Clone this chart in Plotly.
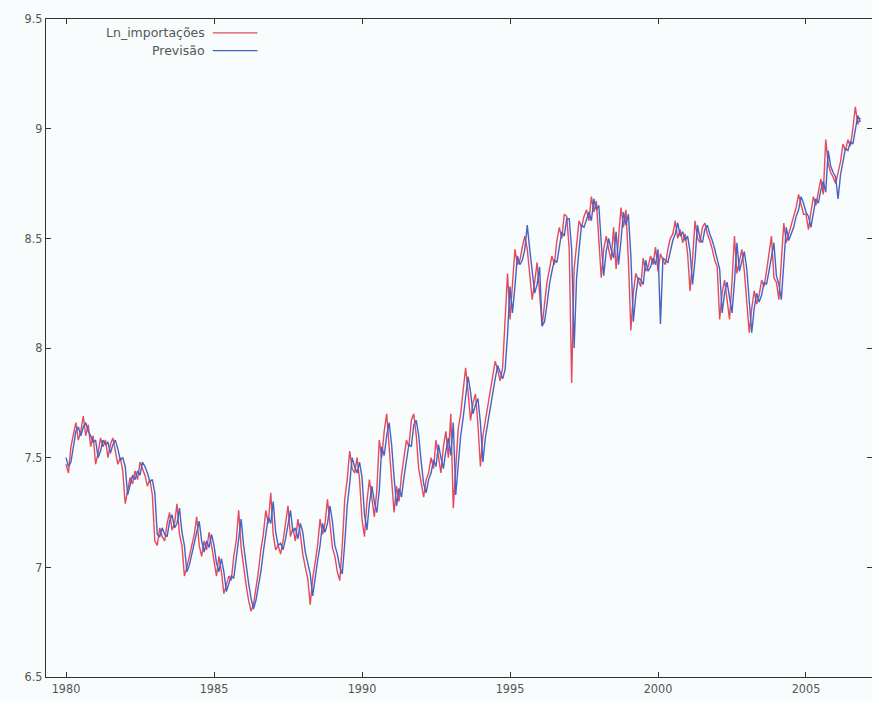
import plotly.graph_objects as go

start_year = 1980

red_1980 = [7.47, 7.43, 7.55, 7.60, 7.66, 7.58, 7.62, 7.69, 7.60, 7.65, 7.55, 7.60]
red_1981 = [7.47, 7.52, 7.59, 7.55, 7.58, 7.50, 7.56, 7.59, 7.53, 7.47, 7.50, 7.44]
red_1982 = [7.29, 7.35, 7.41, 7.38, 7.44, 7.40, 7.48, 7.45, 7.42, 7.37, 7.40, 7.33]
red_1983 = [7.12, 7.10, 7.18, 7.14, 7.12, 7.20, 7.25, 7.17, 7.20, 7.29, 7.15, 7.10]
red_1984 = [6.96, 7.00, 7.05, 7.10, 7.15, 7.23, 7.10, 7.05, 7.12, 7.08, 7.16, 7.10]
red_1985 = [7.02, 6.96, 7.05, 6.98, 6.88, 6.92, 6.96, 6.94, 7.05, 7.12, 7.26, 7.09]
red_1986 = [7.00, 6.92, 6.85, 6.80, 6.83, 6.90, 6.98, 7.08, 7.15, 7.26, 7.20, 7.34]
red_1987 = [7.15, 7.08, 7.10, 7.06, 7.12, 7.20, 7.28, 7.14, 7.18, 7.12, 7.22, 7.15]
red_1988 = [7.06, 7.00, 6.95, 6.83, 6.95, 7.02, 7.10, 7.22, 7.15, 7.20, 7.31, 7.20]
red_1989 = [7.09, 7.05, 6.98, 6.94, 7.10, 7.31, 7.40, 7.53, 7.45, 7.43, 7.50, 7.40]
red_1990 = [7.22, 7.14, 7.30, 7.40, 7.30, 7.23, 7.35, 7.58, 7.50, 7.62, 7.70, 7.55]
red_1991 = [7.40, 7.25, 7.37, 7.30, 7.42, 7.50, 7.58, 7.55, 7.67, 7.70, 7.60, 7.45]
red_1992 = [7.38, 7.32, 7.40, 7.43, 7.50, 7.45, 7.58, 7.50, 7.43, 7.55, 7.62, 7.50]
red_1993 = [7.70, 7.27, 7.45, 7.63, 7.70, 7.80, 7.91, 7.80, 7.67, 7.75, 7.79, 7.65]
red_1994 = [7.46, 7.60, 7.67, 7.75, 7.82, 7.88, 7.94, 7.90, 7.85, 7.91, 8.10, 8.34]
red_1995 = [8.13, 8.30, 8.45, 8.38, 8.40, 8.46, 8.51, 8.45, 8.35, 8.22, 8.30, 8.39]
red_1996 = [8.25, 8.10, 8.20, 8.30, 8.36, 8.42, 8.38, 8.49, 8.55, 8.50, 8.61, 8.60]
red_1997 = [8.45, 7.84, 8.36, 8.48, 8.58, 8.55, 8.60, 8.63, 8.58, 8.69, 8.62, 8.67]
red_1998 = [8.50, 8.32, 8.45, 8.51, 8.45, 8.40, 8.55, 8.36, 8.50, 8.64, 8.55, 8.63]
red_1999 = [8.40, 8.08, 8.25, 8.34, 8.31, 8.28, 8.41, 8.35, 8.37, 8.42, 8.38, 8.46]
red_2000 = [8.35, 8.43, 8.40, 8.38, 8.45, 8.50, 8.52, 8.58, 8.50, 8.54, 8.48, 8.52]
red_2001 = [8.43, 8.26, 8.40, 8.58, 8.50, 8.48, 8.55, 8.57, 8.52, 8.49, 8.45, 8.40]
red_2002 = [8.37, 8.13, 8.25, 8.31, 8.22, 8.13, 8.30, 8.51, 8.34, 8.40, 8.45, 8.35]
red_2003 = [8.20, 8.07, 8.18, 8.26, 8.20, 8.24, 8.31, 8.28, 8.35, 8.42, 8.51, 8.32]
red_2004 = [8.30, 8.22, 8.40, 8.57, 8.48, 8.52, 8.55, 8.60, 8.64, 8.70, 8.66, 8.61]
red_2005 = [8.61, 8.54, 8.62, 8.69, 8.65, 8.72, 8.77, 8.70, 8.95, 8.84, 8.80, 8.78]
red_2006 = [8.75, 8.80, 8.85, 8.93, 8.90, 8.95, 8.92, 9.00, 9.10, 9.02, 9.05]

blue_1980 = [7.50, 7.46, 7.48, 7.56, 7.62, 7.64, 7.60, 7.64, 7.66, 7.62, 7.60, 7.57]
blue_1981 = [7.58, 7.50, 7.53, 7.58, 7.56, 7.57, 7.52, 7.56, 7.58, 7.54, 7.49, 7.50]
blue_1982 = [7.46, 7.33, 7.37, 7.42, 7.40, 7.44, 7.42, 7.48, 7.46, 7.43, 7.39, 7.40]
blue_1983 = [7.34, 7.15, 7.14, 7.18, 7.15, 7.14, 7.21, 7.24, 7.18, 7.20, 7.27, 7.16]
blue_1984 = [7.10, 6.98, 7.01, 7.06, 7.10, 7.15, 7.21, 7.12, 7.07, 7.12, 7.09, 7.15]
blue_1985 = [7.10, 7.02, 6.98, 7.04, 6.98, 6.89, 6.93, 6.96, 6.95, 7.04, 7.11, 7.22]
blue_1986 = [7.10, 7.00, 6.93, 6.86, 6.81, 6.85, 6.91, 6.98, 7.07, 7.14, 7.23, 7.20]
blue_1987 = [7.30, 7.16, 7.10, 7.11, 7.08, 7.13, 7.20, 7.26, 7.16, 7.18, 7.13, 7.20]
blue_1988 = [7.16, 7.07, 7.02, 6.97, 6.87, 6.96, 7.03, 7.10, 7.20, 7.16, 7.20, 7.28]
blue_1989 = [7.21, 7.10, 7.06, 7.00, 6.97, 7.11, 7.28, 7.38, 7.50, 7.46, 7.43, 7.48]
blue_1990 = [7.41, 7.24, 7.17, 7.29, 7.37, 7.30, 7.25, 7.35, 7.55, 7.51, 7.60, 7.66]
blue_1991 = [7.56, 7.41, 7.28, 7.36, 7.32, 7.41, 7.49, 7.56, 7.55, 7.65, 7.67, 7.60]
blue_1992 = [7.48, 7.38, 7.34, 7.40, 7.43, 7.49, 7.46, 7.56, 7.50, 7.45, 7.53, 7.59]
blue_1993 = [7.51, 7.66, 7.33, 7.45, 7.60, 7.68, 7.78, 7.87, 7.80, 7.70, 7.74, 7.77]
blue_1994 = [7.66, 7.48, 7.59, 7.66, 7.74, 7.80, 7.86, 7.92, 7.89, 7.86, 7.90, 8.06]
blue_1995 = [8.28, 8.16, 8.28, 8.42, 8.38, 8.40, 8.45, 8.56, 8.45, 8.35, 8.25, 8.29]
blue_1996 = [8.37, 8.10, 8.12, 8.20, 8.29, 8.35, 8.40, 8.39, 8.47, 8.53, 8.51, 8.59]
blue_1997 = [8.59, 8.45, 8.00, 8.32, 8.45, 8.56, 8.55, 8.59, 8.62, 8.58, 8.68, 8.63]
blue_1998 = [8.65, 8.48, 8.33, 8.44, 8.50, 8.45, 8.41, 8.53, 8.38, 8.49, 8.62, 8.56]
blue_1999 = [8.61, 8.42, 8.12, 8.24, 8.32, 8.31, 8.29, 8.40, 8.35, 8.37, 8.41, 8.38]
blue_2000 = [8.45, 8.11, 8.41, 8.40, 8.39, 8.44, 8.49, 8.52, 8.57, 8.51, 8.53, 8.49]
blue_2001 = [8.51, 8.44, 8.29, 8.40, 8.56, 8.50, 8.48, 8.54, 8.56, 8.52, 8.49, 8.45]
blue_2002 = [8.41, 8.36, 8.16, 8.25, 8.30, 8.23, 8.16, 8.30, 8.48, 8.35, 8.40, 8.44]
blue_2003 = [8.36, 8.20, 8.07, 8.18, 8.25, 8.21, 8.24, 8.30, 8.29, 8.35, 8.41, 8.48]
blue_2004 = [8.33, 8.29, 8.22, 8.40, 8.55, 8.49, 8.52, 8.55, 8.60, 8.63, 8.69, 8.66]
blue_2005 = [8.62, 8.60, 8.55, 8.62, 8.68, 8.66, 8.72, 8.76, 8.71, 8.90, 8.83, 8.80]
blue_2006 = [8.78, 8.68, 8.79, 8.85, 8.91, 8.90, 8.94, 8.93, 9.00, 9.06, 9.03]

ln_importacoes = (red_1980 + red_1981 + red_1982 + red_1983 + red_1984 + red_1985 +
                  red_1986 + red_1987 + red_1988 + red_1989 + red_1990 + red_1991 +
                  red_1992 + red_1993 + red_1994 + red_1995 + red_1996 + red_1997 +
                  red_1998 + red_1999 + red_2000 + red_2001 + red_2002 + red_2003 +
                  red_2004 + red_2005 + red_2006)
previsao = (blue_1980 + blue_1981 + blue_1982 + blue_1983 + blue_1984 + blue_1985 +
            blue_1986 + blue_1987 + blue_1988 + blue_1989 + blue_1990 + blue_1991 +
            blue_1992 + blue_1993 + blue_1994 + blue_1995 + blue_1996 + blue_1997 +
            blue_1998 + blue_1999 + blue_2000 + blue_2001 + blue_2002 + blue_2003 +
            blue_2004 + blue_2005 + blue_2006)

time = [start_year + i / 12 for i in range(len(ln_importacoes))]

x_ticks = [1980, 1985, 1990, 1995, 2000, 2005]
y_ticks = [6.5, 7, 7.5, 8, 8.5, 9, 9.5]
y_labels = ["6.5", "7", "7.5", "8", "8.5", "9", "9.5"]

red = "#e44a5c"
blue = "#4762c4"

fig = go.Figure()
fig.add_trace(go.Scatter(x=time, y=ln_importacoes, mode="lines", name="Ln_importações",
                         line=dict(color=red, width=1.4), showlegend=False))
fig.add_trace(go.Scatter(x=time, y=previsao, mode="lines", name="Previsão",
                         line=dict(color=blue, width=1.4), showlegend=False))

# gnuplot-style key: text right-aligned, sample line to its right
key_font = dict(family="DejaVu Sans", size=12.5, color="#555555")
for i, (label, col) in enumerate([("Ln_importações", red), ("Previsão", blue)]):
    yk = 0.979 - i * 0.027
    fig.add_annotation(xref="paper", yref="paper", x=0.195, y=yk, text=label,
                       showarrow=False, xanchor="right", yanchor="middle", font=key_font)
    fig.add_shape(type="line", xref="paper", yref="paper", x0=0.202, x1=0.256,
                  y0=yk, y1=yk, line=dict(color=col, width=1.2))

axis_common = dict(showline=True, linecolor="#333333", linewidth=1.2, mirror="ticks",
                   ticks="inside", ticklen=5, tickcolor="#333333", showgrid=False,
                   zeroline=False, tickfont=dict(family="DejaVu Sans Condensed", size=12.5, color="#555555"))

fig.update_xaxes(range=[1979.324, 2007.23], tickvals=x_ticks,
                 ticktext=[str(v) for v in x_ticks], **axis_common)
fig.update_yaxes(range=[6.5, 9.5], tickvals=y_ticks, ticktext=y_labels, **axis_common)

fig.update_layout(width=872, height=703, margin=dict(l=46, r=0, t=19, b=26),
                  paper_bgcolor="#f9fcfc", plot_bgcolor="#f9fcfc")

fig.write_html("out.html")
